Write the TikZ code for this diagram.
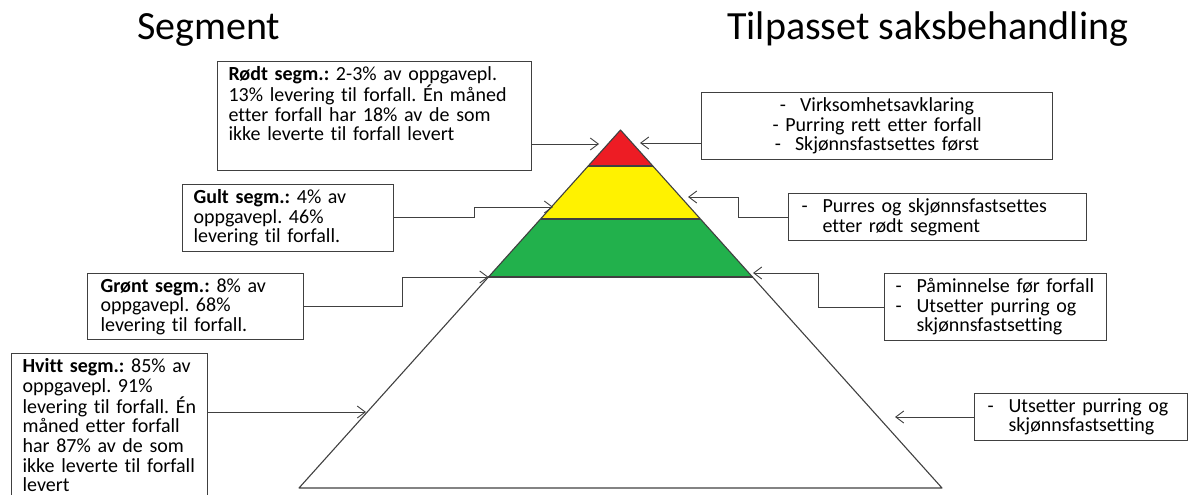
\documentclass[tikz,border=0pt]{standalone}
\usepackage{fontspec}
\setmainfont{Carlito}[Ligatures=NoCommon]
\usetikzlibrary{calc,arrows.meta}
\definecolor{segRed}{HTML}{ED1C24}
\definecolor{segYellow}{HTML}{FFF200}
\definecolor{segGreen}{HTML}{22B14C}
\definecolor{lineGray}{HTML}{404040}
\newcommand\boxFont{\fontsize{20}{19.6}\selectfont\frenchspacing\hyphenpenalty=10000}
\newcommand\dashItem[1]{\makebox[21pt][l]{-}#1}
\begin{document}
\begin{tikzpicture}[x=1pt, y=-1pt,
    infobox/.style={draw=lineGray, line width=1.1pt, anchor=north west, align=left,
        inner xsep=11pt, inner ysep=5pt, font=\boxFont},
    conn/.style={draw=lineGray, line width=0.9pt, -{Straight Barb[length=8pt,width=12pt]}},
    pyr/.style={draw=lineGray, line width=1.1pt, line join=round},
    title/.style={anchor=base west, inner sep=0pt, font=\fontsize{40}{40}\selectfont}
]
\useasboundingbox (0,0) rectangle (1189,495);
\clip (0,0) rectangle (1189,495);

% titles
\node[title] (segTitle) at (137,40) {Segment};
\node[title] (tilTitle) at (727,40) {Tilpasset saksbehandling};

% pyramid
\coordinate (apex)  at (620.5,130);
\coordinate (baseL) at (299,488);
\coordinate (baseR) at (942,488);
\foreach \n/\yy in {r/166, y/219, g/277} {
    \coordinate (\n L) at ($(apex)!{(\yy-130)/358}!(baseL)$);
    \coordinate (\n R) at ($(apex)!{(\yy-130)/358}!(baseR)$);
}
\fill[segRed]    (apex) -- (rR) -- (rL) -- cycle;
\fill[segYellow] (rL) -- (rR) -- (yR) -- (yL) -- cycle;
\fill[segGreen]  (yL) -- (yR) -- (gR) -- (gL) -- cycle;
\draw[pyr] (rL) -- (rR) (yL) -- (yR) (gL) -- (gR);
\draw[pyr] (apex) -- (baseR) -- (baseL) -- cycle;

% segment boxes (left)
\node[infobox, text width=292pt, text depth=85pt] (rod) at (217,61)
    {\textbf{Rødt segm.:} 2-3\% av oppgavepl.\\
     13\% levering til forfall. Én måned\\
     etter forfall har 18\% av de som\\
     ikke leverte til forfall levert};
\node[infobox, text width=189pt] (gult) at (182,184)
    {\textbf{Gult segm.:} 4\% av\\
     oppgavepl. 46\%\\
     levering til forfall.};
\node[infobox, text width=190pt, inner xsep=13pt] (gron) at (87,273)
    {\textbf{Grønt segm.:} 8\% av\\
     oppgavepl. 68\%\\
     levering til forfall.};
\node[infobox, text width=174pt] (hvit) at (11,353)
    {\textbf{Hvitt segm.:} 85\% av\\
     oppgavepl. 91\%\\
     levering til forfall. Én\\
     måned etter forfall\\
     har 87\% av de som\\
     ikke leverte til forfall\\
     levert};

% handling boxes (right)
\node[infobox, text width=329pt, align=center] (virk) at (701,92)
    {-\hspace{14pt}Virksomhetsavklaring\\
     - Purring rett etter forfall\\
     -\hspace{14pt}Skjønnsfastsettes først};
\node[infobox, text width=272pt, inner xsep=13pt] (purr) at (788,193)
    {\dashItem{Purres og skjønnsfastsettes}\\
     \hspace*{21pt}etter rødt segment};
\node[infobox, text width=200pt] (pamin) at (884,273)
    {\dashItem{Påminnelse før forfall}\\
     \dashItem{Utsetter purring og}\\
     \hspace*{21pt}skjønnsfastsetting};
\node[infobox, text width=187pt, inner xsep=13pt] (utset) at (974,393)
    {\dashItem{Utsetter purring og}\\
     \hspace*{21pt}skjønnsfastsetting};

% arrow tips
\coordinate (tipRod)   at (599,144);
\coordinate (tipGult)  at (553,207);
\coordinate (tipHvit)  at (366,412);
\coordinate (tipVirk)  at (640,143);
\coordinate (tipPurr)  at (688,197);
\coordinate (tipPamin) at (753,273);
\coordinate (tipUtset) at (895,417);

% connectors
\draw[conn] (rod.east |- tipRod) -- (tipRod);
\draw[conn] (gult.east) -- ++(80,0) |- (tipGult);
\draw[conn] (gron.east) -- ++(98,0) |- (gL);
\draw[conn] (hvit.east |- tipHvit) -- (tipHvit);
\draw[conn] (virk.west |- tipVirk) -- (tipVirk);
\draw[conn] (purr.west) -- ++(-50,0) |- (tipPurr);
\draw[conn] (pamin.west) -- ++(-66,0) |- (tipPamin);
\draw[conn] (utset.west |- tipUtset) -- (tipUtset);
\end{tikzpicture}
\end{document}
